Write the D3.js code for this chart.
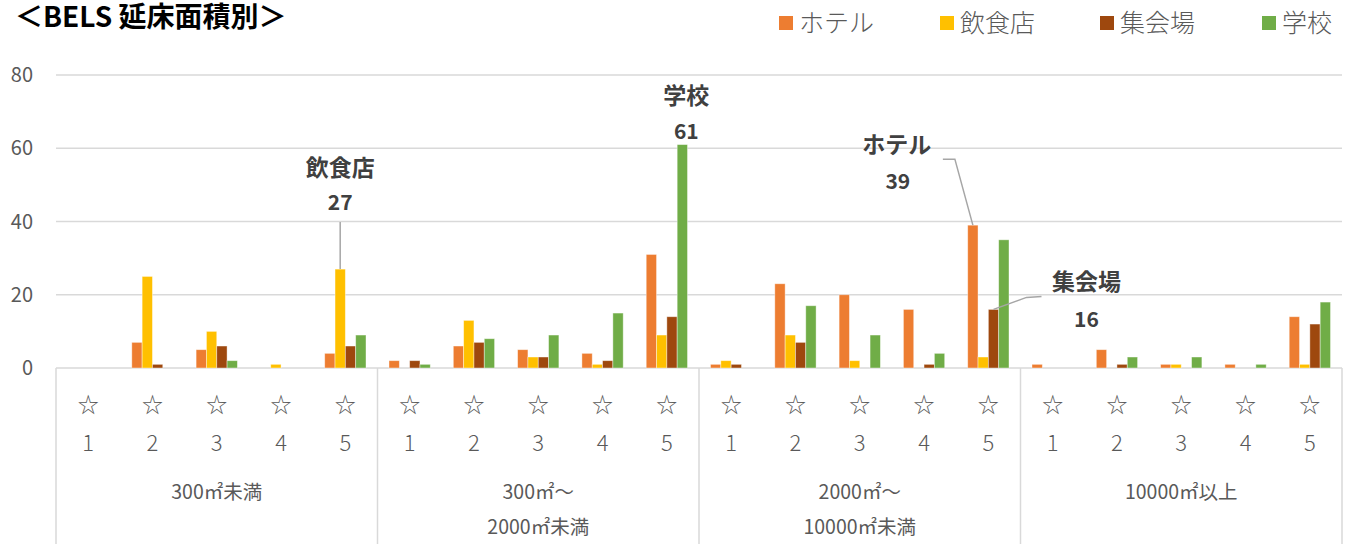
<!DOCTYPE html>
<html>
<head>
<meta charset="utf-8">
<script src="https://cdn.jsdelivr.net/npm/d3@7"></script>
<style>
  html, body { margin: 0; padding: 0; background: #fff; }
  svg { display: block; font-family: "Noto Sans CJK JP", "Noto Sans", sans-serif; }
</style>
</head>
<body>
<svg id="chart" width="1350" height="544"></svg>
<script>
// ---- data ----
const title = "＜BELS 延床面積別＞";
const groups = [["300㎡未満"], ["300㎡～", "2000㎡未満"], ["2000㎡～", "10000㎡未満"], ["10000㎡以上"]];
const stars = ["1", "2", "3", "4", "5"];
const series = ["ホテル", "飲食店", "集会場", "学校"];
const hotel      = [0, 7, 5, 0, 4,   2, 6, 5, 4, 31,   1, 23, 20, 16, 39,   1, 5, 1, 1, 14];
const restaurant = [0, 25, 10, 1, 27, 0, 13, 3, 1, 9,   2, 9, 2, 0, 3,      0, 0, 1, 0, 1];
const hall       = [0, 1, 6, 0, 6,   2, 7, 3, 2, 14,   1, 7, 0, 1, 16,     0, 1, 0, 0, 12];
const school     = [0, 0, 2, 0, 9,   1, 8, 9, 15, 61,  0, 17, 9, 4, 35,    0, 3, 3, 1, 18];
const yTicks = [0, 20, 40, 60, 80];
const callouts = [
  { series: 1, cat: 4 },
  { series: 3, cat: 9 },
  { series: 0, cat: 14 },
  { series: 2, cat: 14 }
];

(function () {
// ---- setup ----
const values = [hotel, restaurant, hall, school];
const colors = ["#ED7D31", "#FFC000", "#9E480E", "#70AD47"];
const cats = [];
groups.forEach((g, gi) => stars.forEach((s, si) => cats.push(gi + "-" + si)));

const svg = d3.select("#chart");
const L = 56, R = 1342, T = 75, B0 = 368, BOT = 544;

const y = d3.scaleLinear().domain([0, 80]).range([B0, T]);
const x0 = d3.scaleBand().domain(cats).range([L, R]).padding(0);
const bw = x0.bandwidth();
const grpW = bw * 0.642;
const x1 = d3.scaleBand().domain(d3.range(series.length)).range([(bw - grpW) / 2, (bw + grpW) / 2]).padding(0);
const xg = d3.scaleBand().domain(d3.range(groups.length)).range([L, R]).padding(0);

const grid = "#d9d9d9";
const txt = "#595959";

// gridlines
svg.append("g").selectAll("line").data(yTicks).join("line")
  .attr("x1", L).attr("x2", R)
  .attr("y1", d => y(d)).attr("y2", d => y(d))
  .attr("stroke", grid).attr("stroke-width", 1.5);

// y tick labels
svg.append("g").selectAll("text").data(yTicks).join("text")
  .attr("x", 33).attr("y", d => y(d)).attr("dy", "0.35em")
  .attr("text-anchor", "end").attr("fill", txt).attr("font-size", 20)
  .text(d => d);

// category axis separators
const seps = d3.range(groups.length + 1).map(i => i < groups.length ? xg(i) : R);
svg.append("g").selectAll("line").data(seps).join("line")
  .attr("x1", d => d).attr("x2", d => d)
  .attr("y1", B0).attr("y2", BOT)
  .attr("stroke", grid).attr("stroke-width", 1.5);

// bars
const barG = svg.append("g");
cats.forEach((c, ci) => {
  values.forEach((arr, si) => {
    const v = arr[ci];
    if (v <= 0) return;
    barG.append("rect")
      .attr("x", x0(c) + x1(si))
      .attr("width", x1.bandwidth())
      .attr("y", y(v))
      .attr("height", y(0) - y(v))
      .attr("fill", colors[si])
      .attr("stroke", "#fff").attr("stroke-opacity", 0.5).attr("stroke-width", 0.8);
  });
});

// x labels: stars + numbers
const xl = svg.append("g");
cats.forEach((c, ci) => {
  const cx = x0(c) + bw / 2;
  xl.append("text").attr("x", cx).attr("y", 405).attr("dy", "0.35em")
    .attr("text-anchor", "middle").attr("fill", txt).attr("font-size", 21).text("☆");
  xl.append("text").attr("x", cx).attr("y", 443).attr("dy", "0.35em")
    .attr("text-anchor", "middle").attr("fill", txt).attr("font-size", 22)
    .attr("font-weight", 300).text(stars[ci % stars.length]);
});
groups.forEach((g, gi) => {
  const cx = xg(gi) + xg.bandwidth() / 2;
  g.forEach((line, li) => {
    xl.append("text").attr("x", cx).attr("y", 492 + li * 35).attr("dy", "0.35em")
      .attr("text-anchor", "middle").attr("fill", txt).attr("font-size", 19.5)
      .text(line);
  });
});

// callouts
const offs = [
  { ndx: 0, ndy: -101, vdx: 0, vdy: -66, line: [[0, 0], [0, -47]] },
  { ndx: 4, ndy: -49, vdx: 4, vdy: -13, line: null },
  { ndx: -76, ndy: -80, vdx: -75, vdy: -44, line: [[0, 0], [-18, -66], [-30, -66]] },
  { ndx: 93, ndy: -27, vdx: 93, vdy: 10, line: [[0, 0], [33, -12], [48, -13]] }
];
const cg = svg.append("g");
callouts.forEach((co, i) => {
  const v = values[co.series][co.cat];
  const bx = x0(cats[co.cat]) + x1(co.series) + x1.bandwidth() / 2;
  const by = y(v);
  const o = offs[i];
  if (o.line) {
    cg.append("path")
      .attr("d", d3.line()(o.line.map(p => [bx + p[0], by + p[1]])))
      .attr("fill", "none").attr("stroke", "#a6a6a6").attr("stroke-width", 1.5);
  }
  cg.append("text").attr("x", bx + o.ndx).attr("y", by + o.ndy).attr("dy", "0.35em")
    .attr("text-anchor", "middle").attr("font-weight", "bold").attr("font-size", 23)
    .attr("fill", "#404040").text(series[co.series]);
  cg.append("text").attr("x", bx + o.vdx).attr("y", by + o.vdy).attr("dy", "0.35em")
    .attr("text-anchor", "middle").attr("font-weight", "bold").attr("font-size", 21)
    .attr("fill", "#404040").text(v);
});

// legend
const legX = [779, 940, 1100, 1262];
const lg = svg.append("g");
series.forEach((s, i) => {
  lg.append("rect").attr("x", legX[i]).attr("y", 16).attr("width", 14).attr("height", 14).attr("fill", colors[i]);
  lg.append("text").attr("x", legX[i] + 20).attr("y", 23).attr("dy", "0.35em")
    .attr("fill", txt).attr("font-size", 25).attr("font-weight", 300).text(s);
});

// title
svg.append("text").attr("x", 15).attr("y", 27).attr("font-size", 28).attr("font-weight", "bold")
  .attr("fill", "#000").text(title);
})();
</script>
</body>
</html>
